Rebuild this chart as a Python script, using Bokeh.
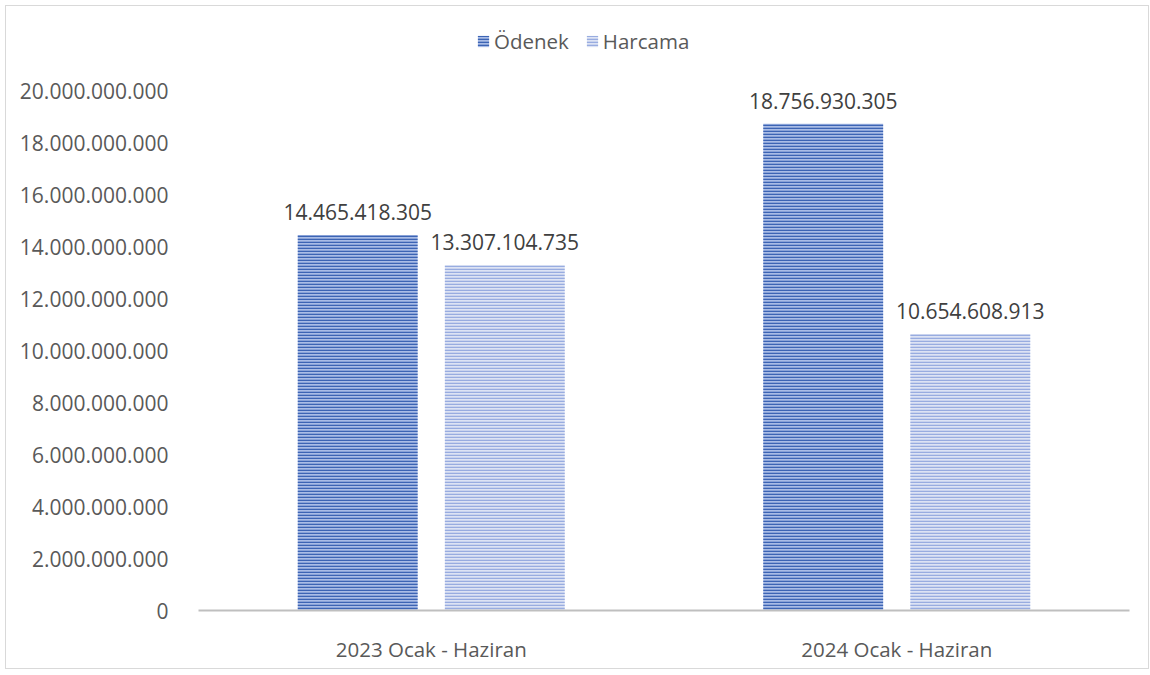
from bokeh.plotting import figure
from bokeh.models import ColumnDataSource, Legend, LegendItem, CustomJSTickFormatter, FixedTicker, LabelSet, FactorRange
from bokeh.transform import dodge
from bokeh.core.properties import value
from bokeh.embed import file_html
from bokeh.resources import INLINE

categories = ["2023 Ocak - Haziran", "2024 Ocak - Haziran"]
odenek = [14465418305, 18756930305]
harcama = [13307104735, 10654608913]
series_names = ["Ödenek", "Harcama"]
y_ticks = [0, 2e9, 4e9, 6e9, 8e9, 10e9, 12e9, 14e9, 16e9, 18e9, 20e9]

def fmt(v):
    return "{:,}".format(int(v)).replace(",", ".")

src = ColumnDataSource(dict(
    cat=categories, odenek=odenek, harcama=harcama,
    lo=[fmt(v) for v in odenek], lh=[fmt(v) for v in harcama],
))

FONT = "Open Sans"
TXT = "#595959"

# frame extends above the top tick to leave room for the legend
p = figure(x_range=FactorRange(*categories, range_padding=0), y_range=(0, 22.62e9),
           width=1144, height=664, output_backend="svg", toolbar_location=None,
           min_border_left=192, min_border_right=21, min_border_top=17, min_border_bottom=60)
p.styles = {"border": "1px solid #D9D9D9", "box-sizing": "border-box", "margin": "5px 0 0 5px"}
p.outline_line_color = None
p.grid.grid_line_color = None

off = 0.158
w = 0.2575
r1 = p.vbar(x=dodge("cat", -off, range=p.x_range), top="odenek", width=w, source=src,
            fill_color="#A9BCE6", line_color=None,
            hatch_pattern="horizontal_line", hatch_color="#3C64B4", hatch_scale=3, hatch_weight=1.6)
r2 = p.vbar(x=dodge("cat", off, range=p.x_range), top="harcama", width=w, source=src,
            fill_color="#DDE3F4", line_color=None,
            hatch_pattern="horizontal_line", hatch_color="#98ACE0", hatch_scale=3, hatch_weight=1.6)

for col, lab, o in (("odenek", "lo", -off), ("harcama", "lh", off)):
    ls = LabelSet(x=dodge("cat", o, range=p.x_range), y=col, text=lab, source=src,
                  text_align="center", text_baseline="bottom", y_offset=15,
                  text_font=value(FONT), text_font_size="21px", text_color="#404040")
    p.add_layout(ls)

p.yaxis.ticker = FixedTicker(ticks=y_ticks)
p.yaxis.formatter = CustomJSTickFormatter(code="""
return Math.round(tick).toString().replace(/\\B(?=(\\d{3})+(?!\\d))/g, '.');
""")
p.yaxis.axis_line_color = None
p.yaxis.major_tick_line_color = None
p.yaxis.minor_tick_line_color = None
p.yaxis.major_label_standoff = 24
p.yaxis.major_label_text_font = FONT
p.yaxis.major_label_text_font_size = "21px"
p.yaxis.major_label_text_color = TXT

p.xaxis.axis_line_color = "#BFBFBF"
p.xaxis.axis_line_width = 2
p.xaxis.major_tick_line_color = None
p.xaxis.minor_tick_line_color = None
p.xaxis.major_label_standoff = 18
p.xaxis.major_label_text_font = FONT
p.xaxis.major_label_text_font_size = "20.5px"
p.xaxis.major_label_text_color = TXT

legend = Legend(items=[LegendItem(label=series_names[0], renderers=[r1]),
                       LegendItem(label=series_names[1], renderers=[r2])],
                orientation="horizontal", location=(278, 555),
                label_text_font=FONT, label_text_font_size="20.5px", label_text_color=TXT,
                glyph_width=14, glyph_height=14, spacing=16, label_standoff=4,
                border_line_color=None, background_fill_alpha=0, padding=0, margin=0)
p.add_layout(legend, "center")

open("out.html", "w").write(file_html(p, INLINE))
